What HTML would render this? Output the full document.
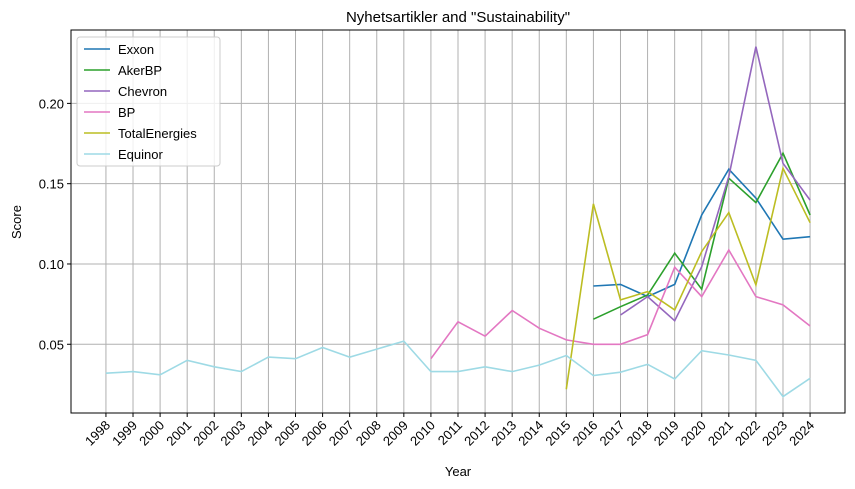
<!DOCTYPE html>
<html><head><meta charset="utf-8"><style>
body{margin:0;background:#fff;}
svg{display:block;font-family:"Liberation Sans","DejaVu Sans",sans-serif;}
</style></head><body>
<svg id="chart" width="855" height="489">
<g id="grid"></g>
<g id="lines"></g>
<g id="axes"></g>
<text x="458" y="22" font-size="15" text-anchor="middle">Nyhetsartikler and "Sustainability"</text>
<text x="458" y="476" font-size="13" text-anchor="middle">Year</text>
<text x="0" y="0" font-size="13" text-anchor="middle" transform="translate(21,222) rotate(-90)">Score</text>
<g id="legend"></g>
</svg>
<script>
const years = [1998,1999,2000,2001,2002,2003,2004,2005,2006,2007,2008,2009,2010,2011,2012,2013,2014,2015,2016,2017,2018,2019,2020,2021,2022,2023,2024];
const yTicks = [0.05,0.10,0.15,0.20];
const seriesNames = ["Exxon","AkerBP","Chevron","BP","TotalEnergies","Equinor"];
const seriesColors = ["#1f77b4","#2ca02c","#9467bd","#e377c2","#bcbd22","#9edae5"];
const exxonYears = [2016,2017,2018,2019,2020,2021,2022,2023,2024];
const exxon = [0.0863,0.0873,0.0797,0.0873,0.1305,0.159,0.141,0.1154,0.117];
const akerYears = [2016,2017,2018,2019,2020,2021,2022,2023,2024];
const akerbp = [0.0656,0.0734,0.0807,0.1067,0.0843,0.1534,0.1382,0.169,0.1305];
const chevronYears = [2017,2018,2019,2020,2021,2022,2023,2024];
const chevron = [0.0682,0.0797,0.0647,0.0983,0.1544,0.2353,0.1627,0.1398];
const bpYears = [2010,2011,2012,2013,2014,2015,2016,2017,2018,2019,2020,2021,2022,2023,2024];
const bp = [0.041,0.064,0.055,0.071,0.060,0.0527,0.050,0.050,0.056,0.098,0.0797,0.1087,0.0797,0.0745,0.0614];
const totalYears = [2015,2016,2017,2018,2019,2020,2021,2022,2023,2024];
const total = [0.022,0.1374,0.0776,0.0828,0.0714,0.1077,0.132,0.087,0.1596,0.1257];
const equinorYears = years;
const equinor = [0.032,0.033,0.031,0.040,0.036,0.033,0.042,0.041,0.048,0.042,0.047,0.052,0.033,0.033,0.036,0.033,0.037,0.043,0.0305,0.0326,0.0375,0.0284,0.046,0.0433,0.040,0.0174,0.0288];

const L=71,R=845,T=30,B=413;
const xMin=1996.71,xMax=2025.29,yMin=0.0072,yMax=0.2457;
const X=v=>L+(v-xMin)/(xMax-xMin)*(R-L);
const Y=v=>B-(v-yMin)/(yMax-yMin)*(B-T);
const NS="http://www.w3.org/2000/svg";
function mk(t,a,p){const e=document.createElementNS(NS,t);for(const k in a)e.setAttribute(k,a[k]);p.appendChild(e);return e;}
const grid=document.getElementById('grid'),axes=document.getElementById('axes'),lines=document.getElementById('lines'),legend=document.getElementById('legend');
years.forEach(yr=>{
  const x=X(yr);
  const g=mk('line',{x1:x,x2:x,y1:T,y2:B,stroke:'#b0b0b0','stroke-width':1},grid);
  
  
  const tk=mk('line',{x1:x,x2:x,y1:B,y2:B+4,stroke:'#000'},axes);
  
  
  const t=mk('text',{'font-size':13,'text-anchor':'end',transform:`translate(${x+5},${B+13}) rotate(-45)`},axes);
  t.textContent=yr;
  
  
});
yTicks.forEach(v=>{
  const y=Y(v);
  const g=mk('line',{x1:L,x2:R,y1:y,y2:y,stroke:'#b0b0b0','stroke-width':1},grid);
  
  
  const tk=mk('line',{x1:L-4,x2:L,y1:y,y2:y,stroke:'#000'},axes);
  
  
  const t=mk('text',{x:L-7,y:y+5,'font-size':13,'text-anchor':'end'},axes);
  t.textContent=v.toFixed(2);
  
  
});
const fr=mk('rect',{x:L,y:T,width:R-L,height:B-T,fill:'none',stroke:'#000','stroke-width':1},axes);


const data=[[exxonYears,exxon],[akerYears,akerbp],[chevronYears,chevron],[bpYears,bp],[totalYears,total],[equinorYears,equinor]];
data.forEach((d,i)=>{
  const pts=d[0].map((yr,j)=>X(yr).toFixed(1)+','+Y(d[1][j]).toFixed(1)).join(' ');
  const p=mk('polyline',{points:pts,fill:'none',stroke:seriesColors[i],'stroke-width':1.6},lines);
  
  
});
const lb=mk('rect',{x:77,y:37,width:143,height:129,rx:3,fill:'#fff','fill-opacity':0.8,stroke:'#ccc'},legend);


seriesNames.forEach((n,i)=>{
  const y=49+i*21;
  const g=mk('g',{},legend);
  
  
  mk('line',{x1:84,x2:110,y1:y,y2:y,stroke:seriesColors[i],'stroke-width':1.6},g);
  const t=mk('text',{x:118,y:y+5,'font-size':13},g);
  t.textContent=n;
});
</script>
</body></html>
